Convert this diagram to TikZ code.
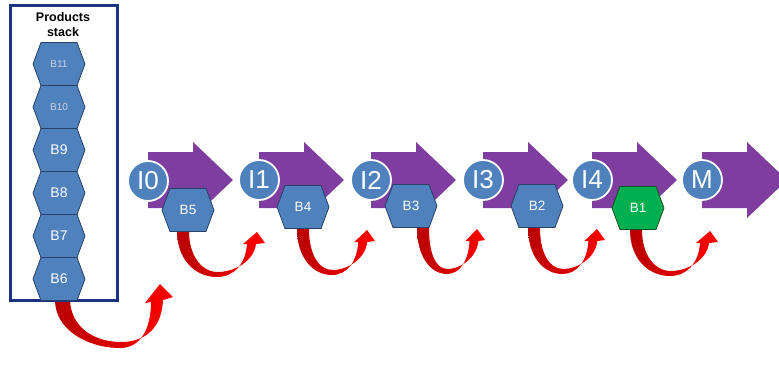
\documentclass[tikz,border=0pt]{standalone}
\usepackage{fontspec}
\setmainfont{Liberation Sans}
\usetikzlibrary{calc}
\definecolor{purp}{RGB}{126,62,160}
\definecolor{cblue}{RGB}{79,129,189}
\definecolor{hexborder}{RGB}{40,64,104}
\definecolor{hgreen}{RGB}{0,176,80}
\definecolor{gborder}{RGB}{20,80,35}
\definecolor{boxblue}{RGB}{28,52,128}
\definecolor{darkred}{RGB}{185,0,0}
\definecolor{brightred}{RGB}{255,0,0}
\definecolor{paletxt}{RGB}{200,210,230}

\newcommand{\hexat}[6]{%
  \draw[#4] (#2-26,#3) -- (#2-18,#3-21.5) -- (#2+18,#3-21.5) -- (#2+26,#3)
     -- (#2+18,#3+21.5) -- (#2-18,#3+21.5) -- cycle;
  \node[#5] (#1) at (#2,#3) {#6};}

\newcommand{\purparrow}[1]{%
  \fill[purp] (#1,152) -- (#1+45,152) -- (#1+45,142) -- (#1+85,180)
     -- (#1+45,218) -- (#1+45,208) -- (#1,208) -- cycle;}

\newcommand{\redarrow}[3]{%
  \begin{scope}[shift={(#1,#2)}]
  \shade[redgrad] (0,0) .. controls (0,28) and (0.22*#3,46) .. (0.5*#3,46)
     .. controls (0.72*#3,46) and (0.86*#3,32) .. (0.875*#3,13)
     -- (0.875*#3-4,13) -- (#3,1) -- (#3+8,12) -- (0.875*#3+9,13)
     .. controls (0.875*#3+7,30) and (0.72*#3,41) .. (0.51*#3,41)
     .. controls (0.3*#3,41) and (12,24) .. (12,0) -- cycle;
  \end{scope}}

\begin{document}
\begin{tikzpicture}[x=1pt,y=-1pt,
  circ/.style={circle, fill=cblue, draw=white, line width=1.8pt,
    minimum size=40pt, inner sep=0pt, text=white,
    font=\fontsize{26}{26}\selectfont},
  hexb/.style={fill=cblue, draw=hexborder, line width=0.8pt},
  hexg/.style={fill=hgreen, draw=gborder, line width=0.8pt},
  hexlab/.style={text=white, inner sep=0pt, font=\fontsize{13.5}{14}\selectfont},
  stacklab/.style={text=white, inner sep=0pt, font=\fontsize{14}{15}\selectfont},
  palelab/.style={text=paletxt, inner sep=0pt, font=\fontsize{10}{11}\selectfont},
  redgrad/.style={left color=darkred, right color=brightred},
  stackbox/.style={draw=boxblue, line width=3pt},
  titlelab/.style={align=center, font=\bfseries\fontsize{12.5}{15}\selectfont, inner sep=0pt}
]
\useasboundingbox (0,0) rectangle (779,367);
\fill[white] (0,0) rectangle (779,367);
\clip (0,0) rectangle (779,367);

% purple block arrows
\purparrow{148}
\purparrow{259}
\purparrow{371}
\purparrow{483}
\purparrow{592}
\purparrow{702}

% circles
\node[circ] (i0) at (148,181) {I0};
\node[circ] (i1) at (259,180) {I1};
\node[circ] (i2) at (371,180) {I2};
\node[circ] (i3) at (483,180) {I3};
\node[circ] (i4) at (592,180) {I4};
\node[circ] (m)  at (702,180) {M};

% red curved arrows
\redarrow{177}{231}{80}
\redarrow{297}{229}{70}
\redarrow{417}{228}{60}
\redarrow{528}{228}{69}
\redarrow{630}{230}{80}

% big red arrow from the stack
\begin{scope}[shift={(55,300)}]
\shade[redgrad] (0,0) .. controls (0,30) and (33,48) .. (65,48)
   .. controls (86,48) and (96,28) .. (96,2) -- (90,3) -- (105,-16)
   -- (118,-3) -- (108,0) .. controls (107,26) and (92,42) .. (66,42)
   .. controls (40,42) and (16,28) .. (15,0) -- cycle;
\end{scope}

% row hexagons
\hexat{b5}{188}{210}{hexb}{hexlab}{B5}
\hexat{b4}{303}{207}{hexb}{hexlab}{B4}
\hexat{b3}{411}{206}{hexb}{hexlab}{B3}
\hexat{b2}{537}{206}{hexb}{hexlab}{B2}
\hexat{b1}{638}{208}{hexg}{hexlab}{B1}

% products stack
\draw[stackbox] (10,5.5) rectangle (117,300.5);
\node[titlelab] (title) at (63,25) {Products\\stack};
\hexat{b11}{59}{64}{hexb}{palelab}{B11}
\hexat{b10}{59}{107}{hexb}{palelab}{B10}
\hexat{b9}{59}{150}{hexb}{stacklab}{B9}
\hexat{b8}{59}{193}{hexb}{stacklab}{B8}
\hexat{b7}{59}{236}{hexb}{stacklab}{B7}
\hexat{b6}{59}{279}{hexb}{stacklab}{B6}
\end{tikzpicture}
\end{document}
